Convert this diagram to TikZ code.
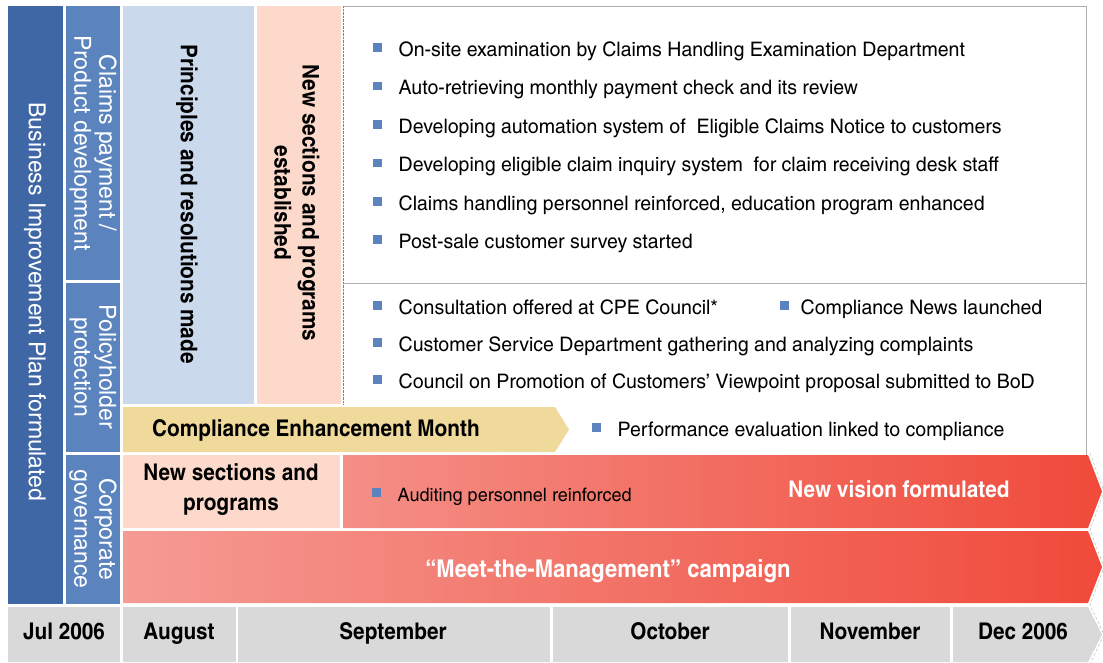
\documentclass[tikz,border=0pt]{standalone}
\usepackage{fontspec}
\setmainfont{TeX Gyre Heros Cn}[FakeStretch=1.19,BoldFeatures={FakeStretch=1.10}]
\usetikzlibrary{positioning}

\definecolor{planblue}{RGB}{63,103,165}
\definecolor{areablue}{RGB}{91,132,191}
\definecolor{paleblue}{RGB}{202,217,236}
\definecolor{palepeach}{RGB}{252,217,202}
\definecolor{monthgold}{RGB}{239,217,155}
\definecolor{lightred}{RGB}{245,155,148}
\definecolor{deepred}{RGB}{240,74,58}
\definecolor{monthgray}{RGB}{217,217,217}
\definecolor{boxgray}{RGB}{175,175,175}

\newcommand\bsq[1][17pt]{\textcolor{areablue}{\rule[4.5pt]{8.5pt}{8.5pt}}\hspace{#1}}

\begin{document}
\begin{tikzpicture}[x=1pt,y=-1pt,
  side/.style={font=\fontsize{23.5}{25}\selectfont,text=white,align=center,rotate=-90,inner sep=0pt},
  head/.style={font=\bfseries\fontsize{23}{28}\selectfont,align=center,inner sep=0pt},
  item/.style={font=\fontsize{20}{24}\selectfont,anchor=base west,inner sep=0pt},
  month/.style={font=\bfseries\fontsize{23}{28}\selectfont,anchor=base,inner sep=0pt}]
 \useasboundingbox (0,0) rectangle (1103,662);

 % columns on the left
 \fill[planblue](8,6) rectangle (63,604);
 \fill[areablue](66,6) rectangle (120,280);
 \fill[areablue](66,283) rectangle (120,452);
 \fill[areablue](66,455) rectangle (120,604);
 \fill[paleblue](123,6) rectangle (254,404);
 \fill[palepeach](257,6) rectangle (341,404);

 % boxes of measures
 \draw[boxgray,thin](343,6)--(1086,6)--(1086,455);
 \draw[boxgray,thin](343,283)--(1086,283);
 \draw[gray,densely dotted](343,6)--(343,404);

 % bars and arrows
 \fill[monthgold](123,407)--(555,407)--(569,429.5)--(555,452)--(123,452)--cycle;
 \fill[palepeach](123,455) rectangle (340,528);
 \shade[left color=lightred!85!deepred,right color=deepred](343,455)--(1088,455)--(1102,491.5)--(1088,528)--(343,528)--cycle;
 \shade[left color=lightred,right color=deepred](123,531)--(1088,531)--(1102,567)--(1088,603)--(123,603)--cycle;
 \draw[gray!60,densely dashed](1090,453)--(1104,491.5)--(1090,530)--(1104,567)--(1090,605)--(1104,634.5)--(1090,664);

 % time line
 \fill[monthgray](8,607) rectangle (120,662);
 \fill[monthgray](123,607) rectangle (236,662);
 \fill[monthgray](238,607) rectangle (550,662);
 \fill[monthgray](553,607) rectangle (788,662);
 \fill[monthgray](791,607) rectangle (950,662);
 \fill[monthgray](953,607)--(1088,607)--(1102,634.5)--(1088,662)--(953,662)--cycle;

 \node[side] (plan) at (35,302) {Business Improvement Plan formulated};
 \node[side] (claims) at (93,143) {Claims payment /\\Product development};
 \node[side] (policy) at (93,367) {Policyholder\\protection};
 \node[side] (govern) at (93,529) {Corporate\\governance};
 \node[head,rotate=-90] (principles) at (187,204) {Principles and resolutions made};
 \node[head,rotate=-90] (established) at (297,203) {New sections and programs\\established};

 \foreach \t [count=\i] in {On-site examination by Claims Handling Examination Department,
   Auto-retrieving monthly payment check and its review,
   Developing automation system of~ Eligible Claims Notice to customers,
   Developing eligible claim inquiry system~ for claim receiving desk staff,
   {Claims handling personnel reinforced, education program enhanced},
   Post-sale customer survey started}
   \node[item] (claim\i) at (373,18+38.4*\i) {\bsq\t};

 \node[item] (cpe) at (373,314) {\bsq Consultation offered at CPE Council*};
 \node[item] (news) at (780,314) {\bsq[12pt]Compliance News launched};
 \node[item] (complaints) at (373,351) {\bsq Customer Service Department gathering and analyzing complaints};
 \node[item] (viewpoint) at (373,388) {\bsq Council on Promotion of Customers' Viewpoint proposal submitted to BoD};

 \node[head,anchor=base] (cem) at (316,436) {Compliance Enhancement Month};
 \node[item] (evaluation) at (592,436) {\bsq Performance evaluation linked to compliance};

 \node[head,font=\bfseries\fontsize{23}{30}\selectfont] (newsec) at (231,490) {New sections and\\programs};
 \node[item,font=\fontsize{18.5}{22}\selectfont] (auditing) at (372,501) {\bsq Auditing personnel reinforced};
 \node[head,text=white,anchor=base] (vision) at (899,497) {New vision formulated};
 \node[head,text=white,anchor=base,font=\bfseries\fontsize{24.5}{28}\selectfont] (meet) at (608,577) {“Meet-the-Management” campaign};

 \node[month] (jul) at (64,639.5) {Jul 2006};
 \node[month] (aug) at (179,639.5) {August};
 \node[month] (sep) at (393,639.5) {September};
 \node[month] (oct) at (670,639.5) {October};
 \node[month] (nov) at (870,639.5) {November};
 \node[month] (dec) at (1023,639.5) {Dec 2006};
\end{tikzpicture}
\end{document}
